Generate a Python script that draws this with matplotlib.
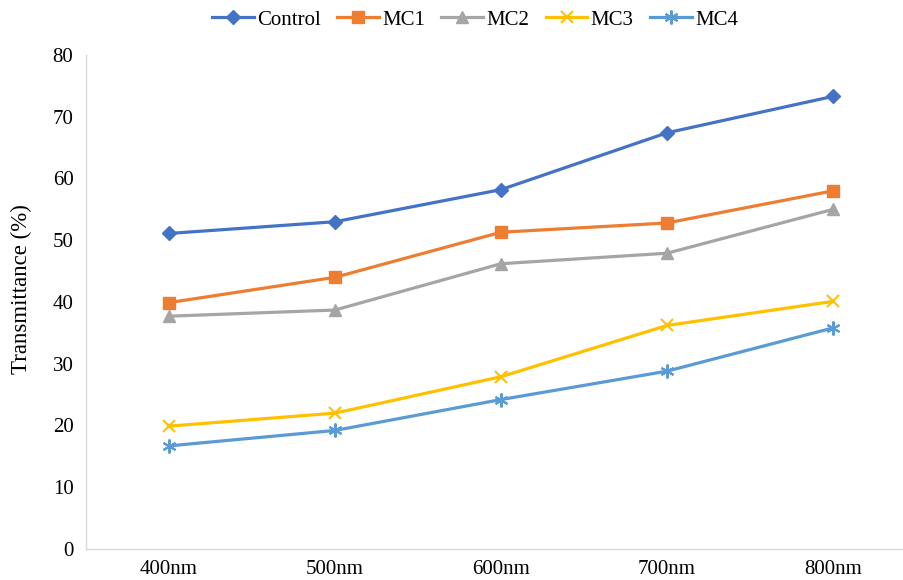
import matplotlib
matplotlib.use('Agg')
import matplotlib.pyplot as plt
import numpy as np

plt.rcParams['font.family'] = ['Liberation Serif', 'DejaVu Serif']

wavelengths = ['400nm', '500nm', '600nm', '700nm', '800nm']
control = [51.1, 53.0, 58.2, 67.4, 73.3]
mc1 = [39.9, 44.0, 51.3, 52.8, 58.0]
mc2 = [37.7, 38.7, 46.2, 47.9, 55.0]
mc3 = [19.9, 22.0, 27.9, 36.2, 40.1]
mc4 = [16.7, 19.2, 24.2, 28.8, 35.8]

series = [
    ('Control', control, '#4472C4', 'D', 7),
    ('MC1', mc1, '#ED7D31', 's', 8),
    ('MC2', mc2, '#A5A5A5', '^', 8),
    ('MC3', mc3, '#FFC000', 'x', 9),
    ('MC4', mc4, '#5B9BD5', (6, 2, 0), 10),
]

x = np.arange(len(wavelengths))

fig = plt.figure(figsize=(9.04, 5.8), dpi=100)
ax = fig.add_axes([86/904, 31/580, (904-86)/904, 494/580])

for name, vals, color, marker, ms in series:
    ax.plot(x, vals, color=color, lw=2.3, marker=marker, markersize=ms,
            markeredgewidth=1.5 if marker in ('x', (6, 2, 0)) else 1,
            markeredgecolor=color, markerfacecolor=color, label=name)

ax.set_xlim(-0.5, (904-86)/166 - 0.5)
ax.set_ylim(0, 80)
ax.set_yticks(range(0, 81, 10))
ax.set_xticks(x)
ax.set_xticklabels(wavelengths)
ax.tick_params(length=0, labelsize=15)
ax.tick_params(axis='y', pad=9)
ax.tick_params(axis='x', pad=8)
ax.set_ylabel('Transmittance (%)', fontsize=16.5)
ax.yaxis.set_label_coords(-0.066, 0.526)

for s in ['top', 'right']:
    ax.spines[s].set_visible(False)
for s in ['left', 'bottom']:
    ax.spines[s].set_color('#D9D9D9')
    ax.spines[s].set_linewidth(1)

fig.legend(loc='center', bbox_to_anchor=(475/904, 1 - 20/580), ncol=5,
           frameon=False, fontsize=15, handlelength=2.0, handletextpad=0.15,
           columnspacing=0.8)

fig.savefig('out.png', dpi=100)
